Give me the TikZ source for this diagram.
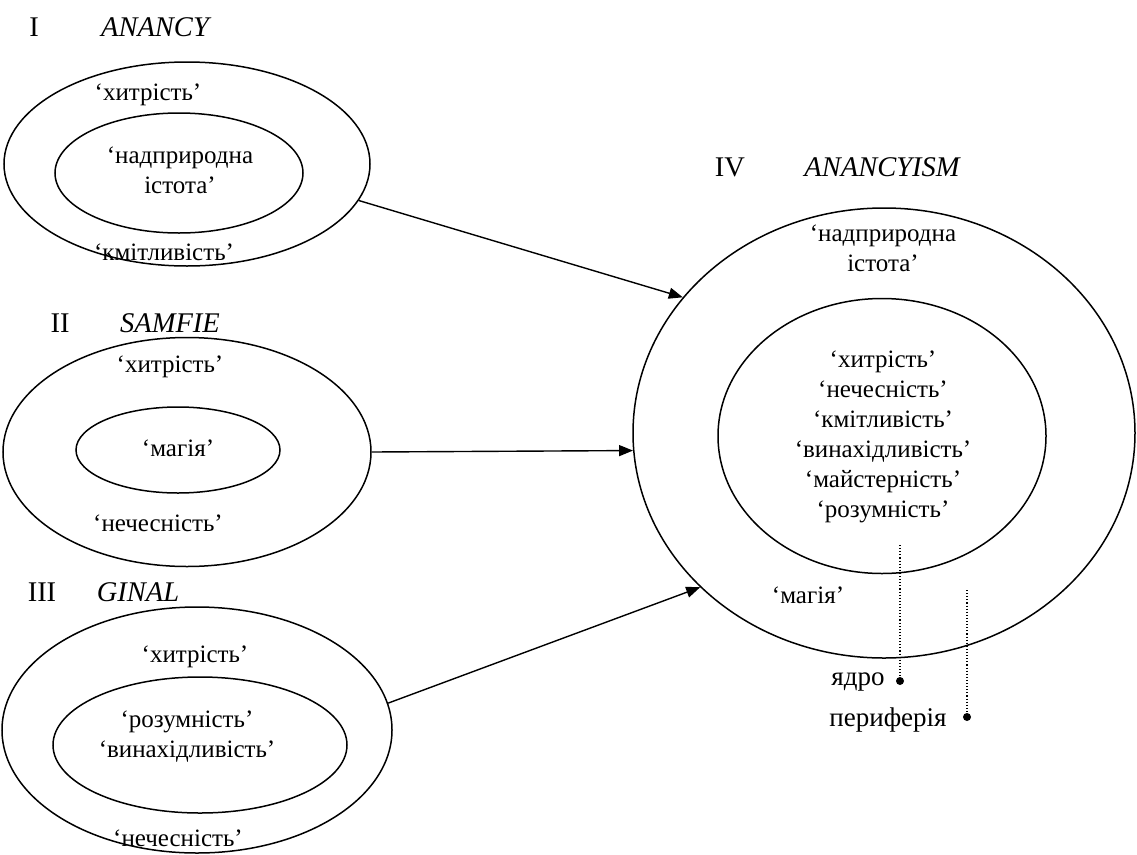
\documentclass[tikz,border=0pt]{standalone}
\usepackage{fontspec}
\setmainfont{Liberation Serif}
\usetikzlibrary{shapes.geometric,arrows.meta}
\tikzset{
  x=1pt,y=-1pt,
  ring/.style={draw,ellipse,line width=1.5pt,inner sep=0pt},
  lbl/.style={font=\fontsize{25}{30}\selectfont,align=center,inner sep=0pt},
  ttl/.style={font=\fontsize{28.5}{30}\selectfont,inner sep=0pt},
  ttli/.style={font=\fontsize{28.5}{30}\selectfont\itshape,inner sep=0pt},
  conn/.style={line width=1.4pt,-{Triangle[length=14pt,width=11pt]}},
  dots/.style={dotted,line width=1.1pt},
  dotmark/.style={circle,fill,inner sep=0pt,minimum size=8pt},
}
\begin{document}
\begin{tikzpicture}
\useasboundingbox (0,0) rectangle (1137,854);
% titles
\node[ttl] (t1) at (34,27) {I};
\node[ttli] (t1n) at (155,27) {ANANCY};
\node[ttl] (t2) at (60,323) {II};
\node[ttli] (t2n) at (170,323) {SAMFIE};
\node[ttl] (t3) at (42,592) {III};
\node[ttli] (t3n) at (138,592) {GINAL};
\node[ttl] (t4) at (730,167) {IV};
\node[ttli] (t4n) at (882,167) {ANANCYISM};
% ellipse I
\node[ring,minimum width=366pt,minimum height=204pt] (e1) at (187,164) {};
\node[ring,minimum width=248pt,minimum height=120pt] (i1) at (179,173) {};
\node[lbl] (a1) at (148,95) {‘хитрість’};
\node[lbl] (a2) at (180,170) {‘надприродна\\істота’};
\node[lbl] (a3) at (164,252) {‘кмітливість’};
% ellipse II
\node[ring,minimum width=368pt,minimum height=229pt] (e2) at (187,452) {};
\node[ring,minimum width=204pt,minimum height=86pt] (i2) at (178,450) {};
\node[lbl] (b1) at (170,367) {‘хитрість’};
\node[lbl] (b2) at (178,448) {‘магія’};
\node[lbl] (b3) at (158,523) {‘нечесність’};
% ellipse III
\node[ring,minimum width=390pt,minimum height=246pt] (e3) at (197,730) {};
\node[ring,minimum width=294pt,minimum height=136pt] (i3) at (200,745) {};
\node[lbl] (c1) at (195,657) {‘хитрість’};
\node[lbl] (c2) at (187,737) {‘розумність’\\‘винахідливість’};
\node[lbl] (c3) at (178,838) {‘нечесність’};
% ellipse IV
\node[ring,minimum width=502pt,minimum height=450pt] (e4) at (884,433) {};
\node[ring,minimum width=328pt,minimum height=275pt] (i4) at (882,436) {};
\node[lbl] (d1) at (883,248) {‘надприродна\\істота’};
\node[lbl] (d2) at (883,437) {‘хитрість’\\‘нечесність’\\‘кмітливість’\\‘винахідливість’\\‘майстерність’\\‘розумність’};
\node[lbl] (d3) at (808,595) {‘магія’};
% arrows
\draw[conn] (e1.-12.5) -- (e4.146.3);
\draw[conn] (e2.east) -- (e4.184.6);
\draw[conn] (e3.8.3) -- (e4.220.8);
% core / periphery
\node[dotmark] (p1) at (900,681) {};
\node[dotmark] (p2) at (967,717) {};
\coordinate (q1) at (900,545);
\coordinate (q2) at (967,590);
\draw[dots] (q1) -- (p1);
\draw[dots] (q2) -- (p2);
\node[lbl,font=\fontsize{27}{30}\selectfont] (k1) at (858,682) {ядро};
\node[lbl,font=\fontsize{27}{30}\selectfont] (k2) at (888,720) {периферія};
\end{tikzpicture}
\end{document}
